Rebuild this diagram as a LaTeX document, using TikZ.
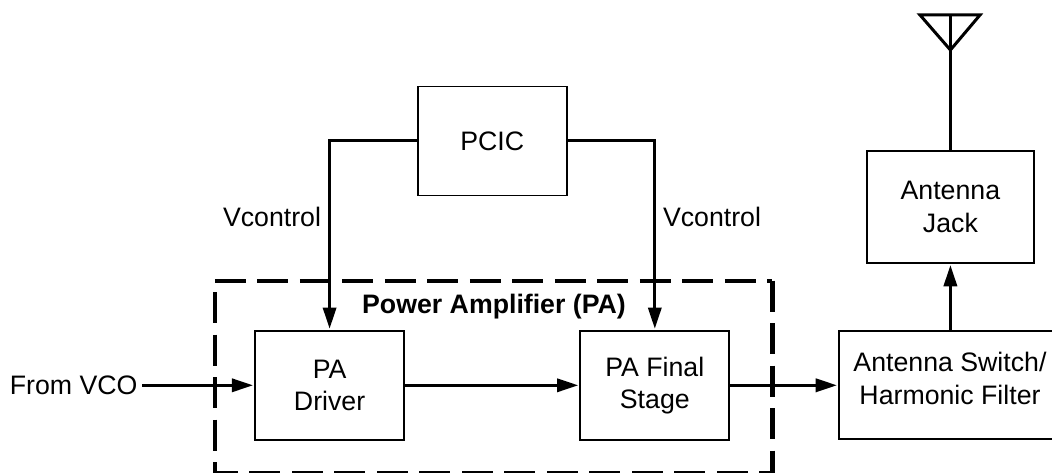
\documentclass[tikz,border=0pt]{standalone}
\usepackage{xcolor}
\usepackage{fontspec}
\setmainfont{Liberation Sans}
\usetikzlibrary{arrows.meta}
\tikzset{
  blockbox/.style={draw,line width=.045cm,align=center,inner sep=0,font=\fontsize{19}{23}\selectfont},
  labeltext/.style={inner sep=.11cm,font=\fontsize{19}{23}\selectfont},
  wire/.style={line width=.075cm},
  signal/.style={wire,shorten >=.03cm,-{Triangle[length=.53cm,width=.33cm]}},
  pagroup/.style={line width=.11cm,dash pattern=on .775cm off .2875cm}
}
\begin{document}
\begin{tikzpicture}[x=1cm,y=1cm]
\path[use as bounding box] (0,0) rectangle (26.30,11.80);
\node[minimum width=13.925cm,minimum height=4.79cm,inner sep=0] (paGroup) at (12.34,2.38) {};
\draw[pagroup] (paGroup.north west) -- (paGroup.north east);
\draw[pagroup] (paGroup.north east) -- (paGroup.south east);
\draw[pagroup,dash phase=.775cm] (paGroup.north west) -- (paGroup.south west);
\draw[pagroup,dash phase=.45cm] (paGroup.south east) -- (paGroup.south west);
\node[blockbox,minimum width=3.725cm,minimum height=2.725cm] (pcic) at (12.305,8.275) {PCIC};
\node[blockbox,minimum width=3.725cm,minimum height=2.725cm] (paDriver) at (8.24,2.1675) {PA\\Driver};
\node[blockbox,minimum width=3.725cm,minimum height=2.725cm] (paFinal) at (16.37,2.1675) {PA Final\\Stage};
\node[blockbox,minimum width=5.55cm,minimum height=2.70cm] (antSwitch) at (23.75,2.1675) {Antenna Switch/\\Harmonic Filter\rule[-.35cm]{0pt}{0pt}};
\node[blockbox,minimum width=4.175cm,minimum height=2.80cm] (antJack) at (23.76,6.625) {Antenna\\Jack};
\node[labeltext] (vcoLabel) at (1.84,2.1675) {From VCO};
\node[labeltext] (vctlLeft) at (6.80,6.375) {Vcontrol};
\node[labeltext] (vctlRight) at (17.80,6.375) {Vcontrol};
\node[labeltext,font=\fontsize{19}{23}\selectfont\bfseries] (paTitle) at (12.35,4.125) {Power Amplifier (PA)};
\coordinate (antTop) at (23.76,11.425);
\coordinate (antTip) at (23.76,10.55);
\coordinate (antLeft) at (23.00,11.425);
\coordinate (antRight) at (24.50,11.425);
\draw[signal] (pcic.west) -| (paDriver.north);
\draw[signal] (pcic.east) -| (paFinal.north);
\draw[signal] (vcoLabel.east) -- (paDriver.west);
\draw[signal] (paDriver.east) -- (paFinal.west);
\draw[signal] (paFinal.east) -- (antSwitch.west);
\draw[signal] (antJack.south |- antSwitch.north) -- (antJack.south);
\draw[wire] (antJack.north) -- (antTop);
\draw[wire,line join=miter] (antLeft) -- (antRight) -- (antTip) -- cycle;
\end{tikzpicture}
\end{document}
